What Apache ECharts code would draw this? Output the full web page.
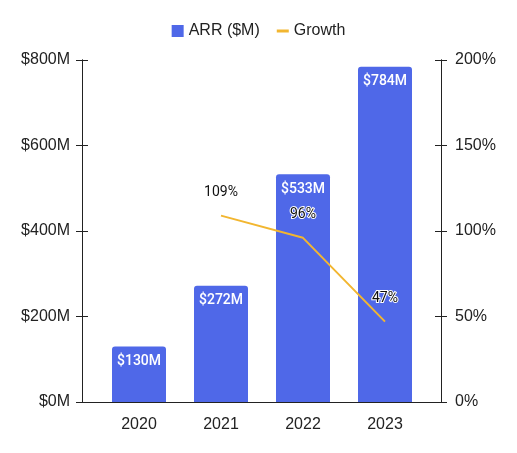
<!DOCTYPE html>
<html><head><meta charset="utf-8">
<script src="https://cdn.jsdelivr.net/npm/echarts@6/dist/echarts.min.js"></script>
<style>html,body{margin:0;padding:0;background:#fff}#c{width:517px;height:453px}</style>
</head><body><div id="c"></div>
<script>
const categories = ['2020', '2021', '2022', '2023'];
const arrValues = [130, 272, 533, 784];
const growthValues = [null, 109, 96, 47];
const leftTicks = { min: 0, max: 800, interval: 200 };
const rightTicks = { min: 0, max: 200, interval: 50 };

const FONT = 'Liberation Sans';
const chart = echarts.init(document.getElementById('c'), null, { renderer: 'canvas' });
const axisLine = { show: true, lineStyle: { color: '#222', width: 1 } };
const hiddenY = (pos, t) => ({ type: 'value', gridIndex: 0, position: pos, min: t.min, max: t.max, interval: t.interval,
  show: false, splitLine: { show: false } });
const visY = (pos, t, fmt, inside, showLabel) => ({
  type: 'value', gridIndex: 1, position: pos, min: t.min, max: t.max, interval: t.interval,
  axisLine: axisLine, splitLine: { show: false },
  axisTick: { show: true, inside: inside, length: 6, lineStyle: { color: '#222' } },
  axisLabel: { show: showLabel, formatter: fmt, color: '#222', fontFamily: FONT, fontSize: 16, margin: pos === 'left' ? 12 : 14 }
});
chart.setOption({
  animation: false,
  legend: {
    top: 18, left: 'center', itemGap: 17, itemWidth: 12, itemHeight: 12,
    textStyle: { fontFamily: FONT, fontSize: 16, color: '#222' },
    data: [
      { name: 'ARR ($M)', icon: 'rect' },
      { name: 'Growth', icon: 'path://M0,0H12V3H0Z', itemStyle: { color: '#F2B630' } }
    ]
  },
  grid: [
    { left: 98, right: 91, top: 60, bottom: 51 },
    { left: 82, right: 76, top: 60, bottom: 51 }
  ],
  xAxis: [
    { type: 'category', gridIndex: 0, data: categories, boundaryGap: true,
      axisLine: { show: false },
      axisTick: { show: true, inside: true, length: 6, alignWithLabel: true, lineStyle: { color: '#222' } },
      axisLabel: { color: '#222', fontFamily: FONT, fontSize: 16, margin: 15 } },
    { type: 'value', gridIndex: 1, min: 0, max: 1, axisLine: axisLine,
      axisTick: { show: false }, axisLabel: { show: false }, splitLine: { show: false } }
  ],
  yAxis: [
    visY('left', leftTicks, v => '$' + v + 'M', false, true),
    visY('right', rightTicks, v => v + '%', false, true),
    visY('left', leftTicks, v => '', true, false),
    visY('right', rightTicks, v => '', true, false),
    hiddenY('left', leftTicks),
    hiddenY('right', rightTicks)
  ],
  series: [
    { name: 'ARR ($M)', type: 'bar', xAxisIndex: 0, yAxisIndex: 4, data: arrValues, barWidth: 54,
      itemStyle: { color: '#4F68E8', borderRadius: [3, 3, 0, 0] },
      label: { show: true, position: 'insideTop', distance: 8, color: '#fff', fontFamily: 'Roboto', fontSize: 14, fontWeight: 500,
        formatter: p => '$' + p.value + 'M' } },
    { name: 'Growth', type: 'line', xAxisIndex: 0, yAxisIndex: 5, data: growthValues, symbol: 'circle', symbolSize: 0.01, showSymbol: true,
      lineStyle: { color: '#F2B630', width: 2 }, itemStyle: { color: '#F2B630' },
      label: { show: true, position: 'top', distance: 16, color: '#111', fontFamily: 'Roboto', fontSize: 14,
        textBorderColor: '#fff', textBorderWidth: 2, formatter: p => p.value + '%' } }
  ]
});
</script></body></html>
